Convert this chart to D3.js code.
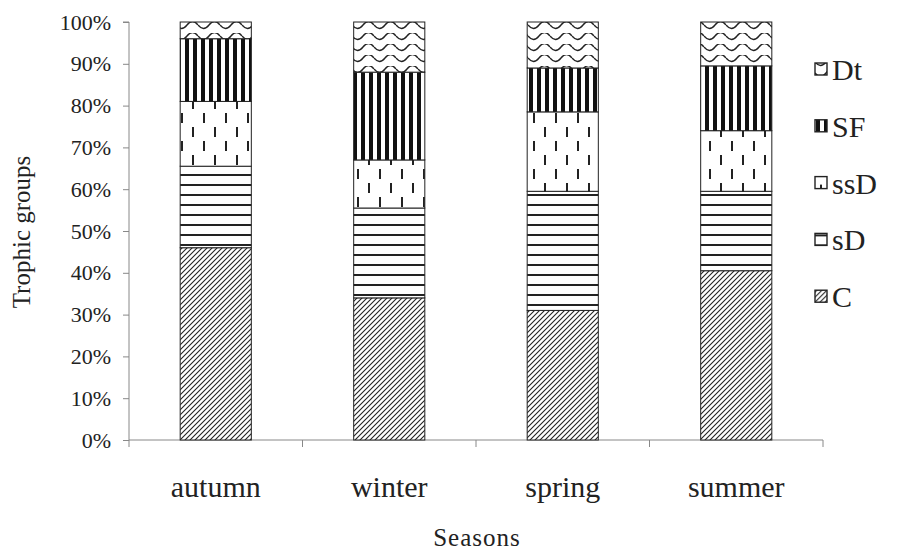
<!DOCTYPE html>
<html><head><meta charset="utf-8">
<script src="https://cdn.jsdelivr.net/npm/d3@7"></script>
<style>body{margin:0;background:#fff}svg{display:block}text{font-family:"Liberation Serif","Times New Roman",serif;fill:#222}</style>
</head><body>
<svg id="c" width="898" height="550"></svg>
<script>
const seasons = ["autumn","winter","spring","summer"];
const groups = ["C","sD","ssD","SF","Dt"];
const C   = [46, 34, 31, 40.5];
const sD  = [19.5, 21.5, 28.5, 19];
const ssD = [15.5, 11.5, 19, 14.5];
const SF  = [15, 21, 10.5, 15.5];
const Dt  = [4, 12, 11, 10.5];
const yTicks = [0,10,20,30,40,50,60,70,80,90,100];

const series = {C, sD, ssD, SF, Dt};
const rows = seasons.map((s,i)=>{const r={season:s}; groups.forEach(g=>r[g]=series[g][i]); return r;});

const svg = d3.select("#c");
const L=129, R=823, T=22, B=440;
const x = d3.scaleBand().domain(seasons).range([L,R]).paddingInner(0.59).paddingOuter(0.295);
const y = d3.scaleLinear().domain([0,100]).range([B,T]);

const defs = svg.append("defs");
// C: diagonal hatch
let p = defs.append("pattern").attr("id","pC").attr("patternUnits","userSpaceOnUse").attr("width",5).attr("height",5);
p.append("rect").attr("width",5).attr("height",5).attr("fill","#fff");
p.append("path").attr("d","M-1,6 L6,-1 M-1,1 L1,-1 M4,6 L6,4").attr("stroke","#222").attr("stroke-width",1.1);
// sD: horizontal lines
p = defs.append("pattern").attr("id","psD").attr("patternUnits","userSpaceOnUse").attr("width",10).attr("height",10);
p.append("rect").attr("width",10).attr("height",10).attr("fill","#fff");
p.append("rect").attr("y",4).attr("width",10).attr("height",2).attr("fill","#222");
// ssD: staggered vertical dashes
p = defs.append("pattern").attr("id","pssD").attr("patternUnits","userSpaceOnUse").attr("width",22).attr("height",28);
p.append("rect").attr("width",22).attr("height",28).attr("fill","#fff");
p.append("rect").attr("x",5).attr("y",1).attr("width",2).attr("height",10).attr("fill","#222");
p.append("rect").attr("x",16).attr("y",15).attr("width",2).attr("height",10).attr("fill","#222");
// SF: vertical thick lines
p = defs.append("pattern").attr("id","pSF").attr("patternUnits","userSpaceOnUse").attr("width",8).attr("height",8);
p.append("rect").attr("width",8).attr("height",8).attr("fill","#fff");
p.append("rect").attr("x",1).attr("width",4).attr("height",8).attr("fill","#111");
// Dt: wavy
p = defs.append("pattern").attr("id","pDt").attr("patternUnits","userSpaceOnUse").attr("width",22).attr("height",11);
p.append("rect").attr("width",22).attr("height",11).attr("fill","#fff");
p.append("path").attr("d","M0,3 Q5.5,10 11,3 T22,3").attr("fill","none").attr("stroke","#222").attr("stroke-width",1.3);

const stack = d3.stack().keys(groups)(rows);

// axes
const yAxis = svg.append("g").attr("transform",`translate(${L},0)`)
  .call(d3.axisLeft(y).tickValues(yTicks).tickSize(6).tickPadding(12).tickFormat(d=>d+"%"));
yAxis.selectAll("path,line").attr("stroke","#888");
yAxis.selectAll("text").style("font-size","22px").attr("fill","#222");
yAxis.select(".domain").attr("d",`M${-6},${T}H0V${B}`);

const xAxis = svg.append("g").attr("transform",`translate(0,${B})`);
xAxis.append("line").attr("x1",L).attr("x2",R).attr("y1",0).attr("y2",0).attr("stroke","#888");
const bounds = seasons.map(s=>x(s)-x.step()*x.paddingInner()/2).concat([R]);
bounds[0]=L;
xAxis.selectAll("line.t").data(bounds).enter().append("line").attr("class","t")
  .attr("x1",d=>d).attr("x2",d=>d).attr("y1",0).attr("y2",7).attr("stroke","#888");
xAxis.selectAll("text").data(seasons).enter().append("text")
  .attr("x",d=>x(d)+x.bandwidth()/2).attr("y",57).attr("text-anchor","middle")
  .style("font-size","30px").text(d=>d);

// bars
svg.append("g").selectAll("g").data(stack).enter().append("g")
  .attr("fill",d=>`url(#p${d.key})`)
  .selectAll("rect").data(d=>d).enter().append("rect")
  .attr("x",d=>x(d.data.season)).attr("width",x.bandwidth())
  .attr("y",d=>y(d[1])).attr("height",d=>y(d[0])-y(d[1]))
  .attr("stroke","#222").attr("stroke-width",1);

// titles
svg.append("text").attr("transform","translate(30,232) rotate(-90)").attr("text-anchor","middle")
  .style("font-size","25px").text("Trophic groups");
svg.append("text").attr("x",477).attr("y",546).attr("text-anchor","middle")
  .style("font-size","25px").style("letter-spacing","1px").text("Seasons");

// legend
const leg = svg.append("g").selectAll("g").data(groups.slice().reverse()).enter().append("g")
  .attr("transform",(d,i)=>`translate(815,${70+i*56.8})`);
leg.append("rect").attr("x",0).attr("y",-7).attr("width",12).attr("height",12)
  .attr("fill",d=>`url(#p${d})`).attr("stroke","#222").attr("stroke-width",1.4);
leg.append("text").attr("x",17).attr("y",10).style("font-size","30px").text(d=>d);
</script>
</body></html>
